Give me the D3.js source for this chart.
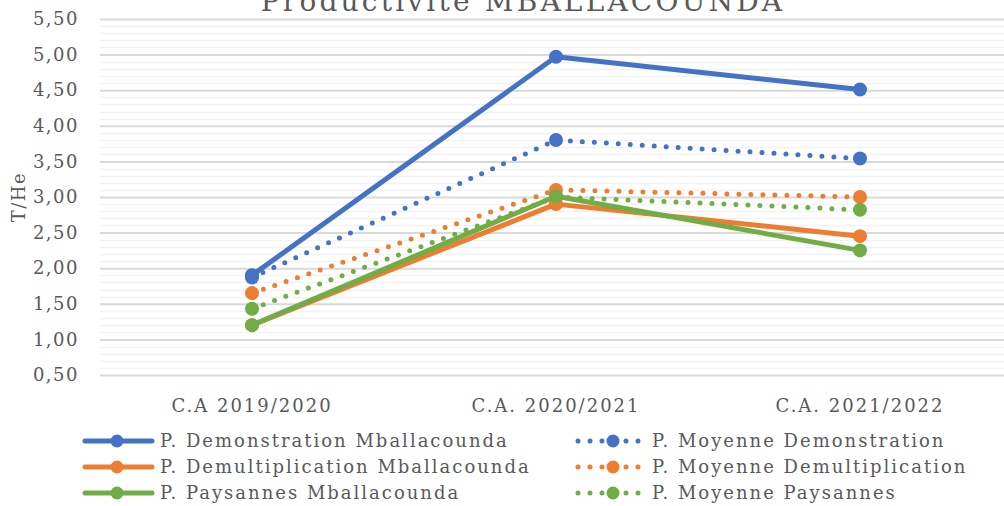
<!DOCTYPE html>
<html>
<head>
<meta charset="utf-8">
<script src="https://cdn.jsdelivr.net/npm/d3@7"></script>
<style>
body { margin: 0; background: #fff; }
text { font-family: "DejaVu Serif", serif; fill: #595959; }
</style>
</head>
<body>
<svg></svg>
<script>
// Productivité MBALLACOUNDA

let svgWidth = 1004;
let svgHeight = 506;

let categories = ["C.A 2019/2020", "C.A. 2020/2021", "C.A. 2021/2022"];

let demoMba = [1.90, 4.97, 4.51];
let demultMba = [1.20, 2.90, 2.45];
let paysMba = [1.20, 3.01, 2.25];
let moyDemo = [1.87, 3.80, 3.54];
let moyDemult = [1.65, 3.10, 3.00];
let moyPays = [1.43, 3.00, 2.82];

let yTicks = [0.5, 1, 1.5, 2, 2.5, 3, 3.5, 4, 4.5, 5, 5.5];

let series = [
	{ name: "P. Demonstration Mballacounda", values: demoMba, color: "#4472c4", dotted: false },
	{ name: "P. Moyenne Demonstration", values: moyDemo, color: "#4472c4", dotted: true },
	{ name: "P. Demultiplication Mballacounda", values: demultMba, color: "#ed7d31", dotted: false },
	{ name: "P. Moyenne Demultiplication", values: moyDemult, color: "#ed7d31", dotted: true },
	{ name: "P. Paysannes Mballacounda", values: paysMba, color: "#70ad47", dotted: false },
	{ name: "P. Moyenne Paysannes", values: moyPays, color: "#70ad47", dotted: true }
];

let svg = d3.select("svg")
	.attr("width", svgWidth)
	.attr("height", svgHeight);

let plotLeft = 100, plotRight = 1012, plotTop = 19, plotBottom = 375;

let xScale = d3.scaleBand()
	.domain(categories)
	.range([plotLeft, plotRight]);

let yScale = d3.scaleLinear()
	.domain([0.5, 5.5])
	.range([plotBottom, plotTop]);

let fmt = d => d.toFixed(2).replace(".", ",");

// minor grid
let minor = d3.range(0.6, 5.5, 0.1).filter(v => Math.abs(v * 2 - Math.round(v * 2)) > 0.01);
svg.append("g").selectAll("line")
	.data(minor)
	.enter()
	.append("line")
	.attr("x1", plotLeft).attr("x2", plotRight)
	.attr("y1", d => Math.round(yScale(d)) + 0.5)
	.attr("y2", d => Math.round(yScale(d)) + 0.5)
	.attr("stroke", "#f2f2f2")
	.attr("stroke-width", 1.5);

// major grid + labels
let yAxis = d3.axisLeft(yScale)
	.tickValues(yTicks)
	.tickFormat(fmt)
	.tickSize(-(plotRight - plotLeft))
	.tickPadding(21);

let gy = svg.append("g")
	.attr("transform", "translate(" + plotLeft + ",0)")
	.call(yAxis);
gy.select(".domain").remove();
gy.selectAll(".tick line").attr("stroke", "#d9d9d9").attr("stroke-width", 2);
gy.selectAll(".tick text")
	.style("font-size", "18px")
	.style("font-family", "DejaVu Serif")
	.style("letter-spacing", "1.5px")
	.attr("fill", "#595959");

// x labels
let xAxis = d3.axisBottom(xScale).tickSize(0).tickPadding(24);
let gx = svg.append("g")
	.attr("transform", "translate(0," + plotBottom + ")")
	.call(xAxis);
gx.select(".domain").remove();
gx.selectAll(".tick text")
	.style("font-size", "18px")
	.style("font-family", "DejaVu Serif")
	.style("letter-spacing", "2px")
	.attr("fill", "#595959");

// title
svg.append("text")
	.attr("x", 523)
	.attr("y", 11)
	.attr("text-anchor", "middle")
	.style("font-size", "28px")
	.style("letter-spacing", "3.2px")
	.text("Productivité MBALLACOUNDA");

// y label
svg.append("text")
	.attr("transform", "translate(25,197) rotate(-90)")
	.attr("text-anchor", "middle")
	.style("font-size", "18px")
	.style("letter-spacing", "1.5px")
	.text("T/He");

let line = d3.line()
	.x((d, i) => xScale(categories[i]) + xScale.bandwidth() / 2)
	.y(d => yScale(d));

// dotted ones first, solid on top
let order = [1, 3, 5, 0, 2, 4];
order.forEach(function (k) {
	let s = series[k];
	let g = svg.append("g");
	g.append("path")
		.datum(s.values)
		.attr("d", line)
		.attr("fill", "none")
		.attr("stroke", s.color)
		.attr("stroke-width", 5)
		.attr("stroke-linecap", "round")
		.attr("stroke-linejoin", "round")
		.attr("stroke-dasharray", s.dotted ? "0 12" : null);
	g.selectAll("circle")
		.data(s.values)
		.enter()
		.append("circle")
		.attr("cx", (d, i) => xScale(categories[i]) + xScale.bandwidth() / 2)
		.attr("cy", d => yScale(d))
		.attr("r", 7)
		.attr("fill", s.color);
});

// legend
let legend = svg.append("g");
series.forEach(function (s, i) {
	let col = i % 2, row = Math.floor(i / 2);
	let x0 = col === 0 ? 85 : 578;
	let y0 = 441 + row * 26;
	let x1 = x0 + 67;
	legend.append("line")
		.attr("x1", x0).attr("x2", x1)
		.attr("y1", y0).attr("y2", y0)
		.attr("stroke", s.color)
		.attr("stroke-width", 5)
		.attr("stroke-linecap", "round")
		.attr("stroke-dasharray", s.dotted ? "0 12" : null);
	legend.append("circle")
		.attr("cx", col === 0 ? 117 : 613)
		.attr("cy", y0)
		.attr("r", 6.5)
		.attr("fill", s.color);
	legend.append("text")
		.attr("x", col === 0 ? 160 : 652)
		.attr("y", y0 + 6)
		.style("font-size", "18px")
		.style("letter-spacing", "2px")
		.text(s.name);
});
</script>
</body>
</html>
